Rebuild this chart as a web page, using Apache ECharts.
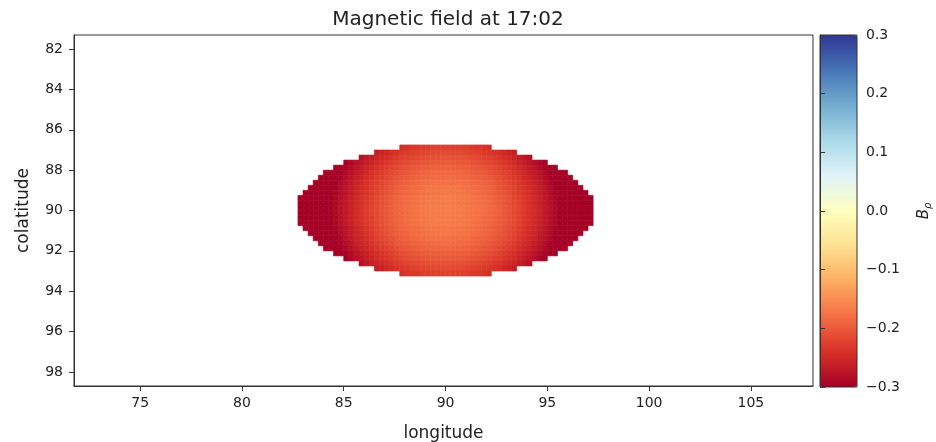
<!DOCTYPE html>
<html>
<head>
<meta charset="utf-8">
<script src="https://cdn.jsdelivr.net/npm/echarts@6/dist/echarts.min.js"></script>
<style>
html, body { margin: 0; padding: 0; background: #fff; }
#bfield-chart { width: 936px; height: 442px; }
</style>
</head>
<body>
<div id="bfield-chart"></div>
<script>
// grid of the field, degrees: one row per colatitude,
// each row starts at firstLon[i] and steps by lonStep
var lonStep = 0.25;
var colats = [86.875, 87.125, 87.375, 87.625, 87.875, 88.125, 88.375, 88.625, 88.875,
              89.125, 89.375, 89.625, 89.875, 90.125, 90.375, 90.625, 90.875, 91.125,
              91.375, 91.625, 91.875, 92.125, 92.375, 92.625, 92.875, 93.125];
var firstLon = [87.875, 86.625, 85.875, 85.125, 84.625, 84.125, 83.875, 83.625, 83.375,
                83.125, 82.875, 82.875, 82.875, 82.875, 82.875, 82.875, 83.125, 83.375,
                83.625, 83.875, 84.125, 84.625, 85.125, 85.875, 86.625, 87.875];

// B_rho (estimated from the colour scale)
var bRho = [
    [-0.242, -0.238, -0.234, -0.231, -0.228, -0.226, -0.225, -0.224, -0.223, -0.223, -0.224, -0.225, -0.226, -0.228, -0.231, -0.234, -0.238, -0.242],
    [-0.263, -0.256, -0.250, -0.244, -0.238, -0.233, -0.229, -0.225, -0.222, -0.219, -0.217, -0.216, -0.215, -0.214,
     -0.214, -0.215, -0.216, -0.217, -0.219, -0.222, -0.225, -0.229, -0.233, -0.238, -0.244, -0.250, -0.256, -0.263],
    [-0.279, -0.271, -0.263, -0.255, -0.248, -0.242, -0.236, -0.230, -0.225, -0.221, -0.217, -0.214, -0.211, -0.209, -0.208, -0.207, -0.206,
     -0.206, -0.207, -0.208, -0.209, -0.211, -0.214, -0.217, -0.221, -0.225, -0.230, -0.236, -0.242, -0.248, -0.255, -0.263, -0.271, -0.279],
    [-0.300, -0.290, -0.280, -0.271, -0.263, -0.255, -0.247, -0.240, -0.234, -0.228, -0.222, -0.217, -0.213, -0.209, -0.206, -0.203, -0.201, -0.200, -0.199, -0.198,
     -0.198, -0.199, -0.200, -0.201, -0.203, -0.206, -0.209, -0.213, -0.217, -0.222, -0.228, -0.234, -0.240, -0.247, -0.255, -0.263, -0.271, -0.280, -0.290, -0.300],
    [-0.316, -0.305, -0.294, -0.284, -0.274, -0.265, -0.257, -0.249, -0.241, -0.234, -0.228, -0.222, -0.216, -0.211, -0.207, -0.203, -0.200, -0.197, -0.195, -0.194, -0.193, -0.192,
     -0.192, -0.193, -0.194, -0.195, -0.197, -0.200, -0.203, -0.207, -0.211, -0.216, -0.222, -0.228, -0.234, -0.241, -0.249, -0.257, -0.265, -0.274, -0.284, -0.294, -0.305, -0.316],
    [-0.334, -0.322, -0.310, -0.299, -0.288, -0.278, -0.268, -0.259, -0.251, -0.243, -0.235, -0.228, -0.222, -0.216, -0.210, -0.205, -0.201, -0.197, -0.194, -0.191, -0.189, -0.188, -0.187, -0.186,
     -0.186, -0.187, -0.188, -0.189, -0.191, -0.194, -0.197, -0.201, -0.205, -0.210, -0.216, -0.222, -0.228, -0.235, -0.243, -0.251, -0.259, -0.268, -0.278, -0.288, -0.299, -0.310, -0.322, -0.334],
    [-0.342, -0.329, -0.317, -0.305, -0.294, -0.283, -0.273, -0.263, -0.254, -0.246, -0.238, -0.230, -0.223, -0.217, -0.211, -0.205, -0.200, -0.196, -0.192, -0.189, -0.186, -0.184, -0.183, -0.182, -0.181,
     -0.181, -0.182, -0.183, -0.184, -0.186, -0.189, -0.192, -0.196, -0.200, -0.205, -0.211, -0.217, -0.223, -0.230, -0.238, -0.246, -0.254, -0.263, -0.273, -0.283, -0.294, -0.305, -0.317, -0.329, -0.342],
    [-0.351, -0.337, -0.324, -0.312, -0.300, -0.289, -0.278, -0.268, -0.258, -0.249, -0.241, -0.233, -0.225, -0.218, -0.212, -0.206, -0.200, -0.195, -0.191, -0.187, -0.184, -0.181, -0.179, -0.178, -0.177, -0.176,
     -0.176, -0.177, -0.178, -0.179, -0.181, -0.184, -0.187, -0.191, -0.195, -0.200, -0.206, -0.212, -0.218, -0.225, -0.233, -0.241, -0.249, -0.258, -0.268, -0.278, -0.289, -0.300, -0.312, -0.324, -0.337, -0.351],
    [-0.361, -0.347, -0.333, -0.320, -0.308, -0.296, -0.285, -0.274, -0.264, -0.254, -0.245, -0.237, -0.229, -0.221, -0.214, -0.208, -0.202, -0.196, -0.191, -0.187, -0.183, -0.180, -0.177, -0.175, -0.174, -0.173, -0.172,
     -0.172, -0.173, -0.174, -0.175, -0.177, -0.180, -0.183, -0.187, -0.191, -0.196, -0.202, -0.208, -0.214, -0.221, -0.229, -0.237, -0.245, -0.254, -0.264, -0.274, -0.285, -0.296, -0.308, -0.320, -0.333, -0.347, -0.361],
    [-0.373, -0.359, -0.345, -0.331, -0.318, -0.306, -0.294, -0.283, -0.272, -0.262, -0.252, -0.243, -0.235, -0.227, -0.219, -0.212, -0.206, -0.200, -0.194, -0.189, -0.185, -0.181, -0.178, -0.175, -0.173, -0.172, -0.171, -0.170,
     -0.170, -0.171, -0.172, -0.173, -0.175, -0.178, -0.181, -0.185, -0.189, -0.194, -0.200, -0.206, -0.212, -0.219, -0.227, -0.235, -0.243, -0.252, -0.262, -0.272, -0.283, -0.294, -0.306, -0.318, -0.331, -0.345, -0.359, -0.373],
    [-0.385, -0.370, -0.356, -0.342, -0.328, -0.315, -0.303, -0.291, -0.280, -0.269, -0.259, -0.249, -0.240, -0.232, -0.224, -0.216, -0.209, -0.203, -0.197, -0.191, -0.186, -0.182, -0.178, -0.175, -0.172, -0.170, -0.169, -0.168, -0.167,
     -0.167, -0.168, -0.169, -0.170, -0.172, -0.175, -0.178, -0.182, -0.186, -0.191, -0.197, -0.203, -0.209, -0.216, -0.224, -0.232, -0.240, -0.249, -0.259, -0.269, -0.280, -0.291, -0.303, -0.315, -0.328, -0.342, -0.356, -0.370, -0.385],
    [-0.384, -0.369, -0.355, -0.341, -0.327, -0.314, -0.302, -0.290, -0.279, -0.268, -0.258, -0.248, -0.239, -0.231, -0.223, -0.215, -0.208, -0.202, -0.196, -0.190, -0.185, -0.181, -0.177, -0.174, -0.171, -0.169, -0.168, -0.167, -0.166,
     -0.166, -0.167, -0.168, -0.169, -0.171, -0.174, -0.177, -0.181, -0.185, -0.190, -0.196, -0.202, -0.208, -0.215, -0.223, -0.231, -0.239, -0.248, -0.258, -0.268, -0.279, -0.290, -0.302, -0.314, -0.327, -0.341, -0.355, -0.369, -0.384],
    [-0.383, -0.368, -0.354, -0.340, -0.326, -0.313, -0.301, -0.289, -0.278, -0.267, -0.257, -0.247, -0.238, -0.230, -0.222, -0.214, -0.207, -0.201, -0.195, -0.189, -0.184, -0.180, -0.176, -0.173, -0.170, -0.168, -0.167, -0.166, -0.165,
     -0.165, -0.166, -0.167, -0.168, -0.170, -0.173, -0.176, -0.180, -0.184, -0.189, -0.195, -0.201, -0.207, -0.214, -0.222, -0.230, -0.238, -0.247, -0.257, -0.267, -0.278, -0.289, -0.301, -0.313, -0.326, -0.340, -0.354, -0.368, -0.383],
    [-0.383, -0.368, -0.354, -0.340, -0.326, -0.313, -0.301, -0.289, -0.278, -0.267, -0.257, -0.247, -0.238, -0.230, -0.222, -0.214, -0.207, -0.201, -0.195, -0.189, -0.184, -0.180, -0.176, -0.173, -0.170, -0.168, -0.167, -0.166, -0.165,
     -0.165, -0.166, -0.167, -0.168, -0.170, -0.173, -0.176, -0.180, -0.184, -0.189, -0.195, -0.201, -0.207, -0.214, -0.222, -0.230, -0.238, -0.247, -0.257, -0.267, -0.278, -0.289, -0.301, -0.313, -0.326, -0.340, -0.354, -0.368, -0.383],
    [-0.384, -0.369, -0.355, -0.341, -0.327, -0.314, -0.302, -0.290, -0.279, -0.268, -0.258, -0.248, -0.239, -0.231, -0.223, -0.215, -0.208, -0.202, -0.196, -0.190, -0.185, -0.181, -0.177, -0.174, -0.171, -0.169, -0.168, -0.167, -0.166,
     -0.166, -0.167, -0.168, -0.169, -0.171, -0.174, -0.177, -0.181, -0.185, -0.190, -0.196, -0.202, -0.208, -0.215, -0.223, -0.231, -0.239, -0.248, -0.258, -0.268, -0.279, -0.290, -0.302, -0.314, -0.327, -0.341, -0.355, -0.369, -0.384],
    [-0.385, -0.370, -0.356, -0.342, -0.328, -0.315, -0.303, -0.291, -0.280, -0.269, -0.259, -0.249, -0.240, -0.232, -0.224, -0.216, -0.209, -0.203, -0.197, -0.191, -0.186, -0.182, -0.178, -0.175, -0.172, -0.170, -0.169, -0.168, -0.167,
     -0.167, -0.168, -0.169, -0.170, -0.172, -0.175, -0.178, -0.182, -0.186, -0.191, -0.197, -0.203, -0.209, -0.216, -0.224, -0.232, -0.240, -0.249, -0.259, -0.269, -0.280, -0.291, -0.303, -0.315, -0.328, -0.342, -0.356, -0.370, -0.385],
    [-0.373, -0.359, -0.345, -0.331, -0.318, -0.306, -0.294, -0.283, -0.272, -0.262, -0.252, -0.243, -0.235, -0.227, -0.219, -0.212, -0.206, -0.200, -0.194, -0.189, -0.185, -0.181, -0.178, -0.175, -0.173, -0.172, -0.171, -0.170,
     -0.170, -0.171, -0.172, -0.173, -0.175, -0.178, -0.181, -0.185, -0.189, -0.194, -0.200, -0.206, -0.212, -0.219, -0.227, -0.235, -0.243, -0.252, -0.262, -0.272, -0.283, -0.294, -0.306, -0.318, -0.331, -0.345, -0.359, -0.373],
    [-0.361, -0.347, -0.333, -0.320, -0.308, -0.296, -0.285, -0.274, -0.264, -0.254, -0.245, -0.237, -0.229, -0.221, -0.214, -0.208, -0.202, -0.196, -0.191, -0.187, -0.183, -0.180, -0.177, -0.175, -0.174, -0.173, -0.172,
     -0.172, -0.173, -0.174, -0.175, -0.177, -0.180, -0.183, -0.187, -0.191, -0.196, -0.202, -0.208, -0.214, -0.221, -0.229, -0.237, -0.245, -0.254, -0.264, -0.274, -0.285, -0.296, -0.308, -0.320, -0.333, -0.347, -0.361],
    [-0.351, -0.337, -0.324, -0.312, -0.300, -0.289, -0.278, -0.268, -0.258, -0.249, -0.241, -0.233, -0.225, -0.218, -0.212, -0.206, -0.200, -0.195, -0.191, -0.187, -0.184, -0.181, -0.179, -0.178, -0.177, -0.176,
     -0.176, -0.177, -0.178, -0.179, -0.181, -0.184, -0.187, -0.191, -0.195, -0.200, -0.206, -0.212, -0.218, -0.225, -0.233, -0.241, -0.249, -0.258, -0.268, -0.278, -0.289, -0.300, -0.312, -0.324, -0.337, -0.351],
    [-0.342, -0.329, -0.317, -0.305, -0.294, -0.283, -0.273, -0.263, -0.254, -0.246, -0.238, -0.230, -0.223, -0.217, -0.211, -0.205, -0.200, -0.196, -0.192, -0.189, -0.186, -0.184, -0.183, -0.182, -0.181,
     -0.181, -0.182, -0.183, -0.184, -0.186, -0.189, -0.192, -0.196, -0.200, -0.205, -0.211, -0.217, -0.223, -0.230, -0.238, -0.246, -0.254, -0.263, -0.273, -0.283, -0.294, -0.305, -0.317, -0.329, -0.342],
    [-0.334, -0.322, -0.310, -0.299, -0.288, -0.278, -0.268, -0.259, -0.251, -0.243, -0.235, -0.228, -0.222, -0.216, -0.210, -0.205, -0.201, -0.197, -0.194, -0.191, -0.189, -0.188, -0.187, -0.186,
     -0.186, -0.187, -0.188, -0.189, -0.191, -0.194, -0.197, -0.201, -0.205, -0.210, -0.216, -0.222, -0.228, -0.235, -0.243, -0.251, -0.259, -0.268, -0.278, -0.288, -0.299, -0.310, -0.322, -0.334],
    [-0.316, -0.305, -0.294, -0.284, -0.274, -0.265, -0.257, -0.249, -0.241, -0.234, -0.228, -0.222, -0.216, -0.211, -0.207, -0.203, -0.200, -0.197, -0.195, -0.194, -0.193, -0.192,
     -0.192, -0.193, -0.194, -0.195, -0.197, -0.200, -0.203, -0.207, -0.211, -0.216, -0.222, -0.228, -0.234, -0.241, -0.249, -0.257, -0.265, -0.274, -0.284, -0.294, -0.305, -0.316],
    [-0.300, -0.290, -0.280, -0.271, -0.263, -0.255, -0.247, -0.240, -0.234, -0.228, -0.222, -0.217, -0.213, -0.209, -0.206, -0.203, -0.201, -0.200, -0.199, -0.198,
     -0.198, -0.199, -0.200, -0.201, -0.203, -0.206, -0.209, -0.213, -0.217, -0.222, -0.228, -0.234, -0.240, -0.247, -0.255, -0.263, -0.271, -0.280, -0.290, -0.300],
    [-0.279, -0.271, -0.263, -0.255, -0.248, -0.242, -0.236, -0.230, -0.225, -0.221, -0.217, -0.214, -0.211, -0.209, -0.208, -0.207, -0.206,
     -0.206, -0.207, -0.208, -0.209, -0.211, -0.214, -0.217, -0.221, -0.225, -0.230, -0.236, -0.242, -0.248, -0.255, -0.263, -0.271, -0.279],
    [-0.263, -0.256, -0.250, -0.244, -0.238, -0.233, -0.229, -0.225, -0.222, -0.219, -0.217, -0.216, -0.215, -0.214,
     -0.214, -0.215, -0.216, -0.217, -0.219, -0.222, -0.225, -0.229, -0.233, -0.238, -0.244, -0.250, -0.256, -0.263],
    [-0.242, -0.238, -0.234, -0.231, -0.228, -0.226, -0.225, -0.224, -0.223, -0.223, -0.224, -0.225, -0.226, -0.228, -0.231, -0.234, -0.238, -0.242]
];

var lonTicks = [75, 80, 85, 90, 95, 100, 105];
var colatTicks = [82, 84, 86, 88, 90, 92, 94, 96, 98];
var cbarTicks = [-0.3, -0.2, -0.1, 0.0, 0.1, 0.2, 0.3];

// RdYlBu, low -> high
var rdylbu = ['#a50026', '#d73027', '#f46d43', '#fdae61', '#fee090', '#ffffbf',
              '#e0f3f8', '#abd9e9', '#74add1', '#4575b4', '#313695'];

var cells = [];
for (var i = 0; i < colats.length; i++) {
    for (var j = 0; j < bRho[i].length; j++) {
        cells.push([firstLon[i] + j * lonStep, colats[i], bRho[i][j]]);
    }
}
var dColat = colats[1] - colats[0];

function renderCell(params, api) {
    var x = api.value(0), y = api.value(1);
    var p0 = api.coord([x - lonStep / 2, y - dColat / 2]);
    var p1 = api.coord([x + lonStep / 2, y + dColat / 2]);
    var c = api.visual('color');
    return {
        type: 'rect',
        shape: {
            x: Math.min(p0[0], p1[0]), y: Math.min(p0[1], p1[1]),
            width: Math.abs(p1[0] - p0[0]), height: Math.abs(p1[1] - p0[1])
        },
        style: { fill: c, stroke: c, lineWidth: 0.6 }
    };
}

var font = 'DejaVu Sans';
var ink = '#222';

function minusFmt(v) {
    return (v < -1e-9 ? '\u2212' : '') + Math.abs(v).toFixed(1);
}

var chart = echarts.init(document.getElementById('bfield-chart'));

var option = {
    animation: false,
    backgroundColor: '#fff',
    textStyle: { fontFamily: font },
    title: {
        text: 'Magnetic field at 17:02',
        left: 443,
        top: 5,
        textAlign: 'center',
        textStyle: { fontFamily: font, fontSize: 20, fontWeight: 'normal', color: ink }
    },
    grid: [
        { left: 74, top: 35, width: 739, height: 351, outerBoundsMode: 'none', containLabel: false,
          show: true, borderColor: '#333', borderWidth: 1, backgroundColor: 'transparent' },
        { left: 820, top: 35, width: 37, height: 352, outerBoundsMode: 'none', containLabel: false,
          show: true, borderColor: '#333', borderWidth: 1, backgroundColor: 'transparent', z: 10 }
    ],
    xAxis: [
        {
            type: 'value', gridIndex: 0, min: 71.75, max: 108.05,
            name: 'longitude', nameLocation: 'middle', nameGap: 39,
            nameTextStyle: { fontFamily: font, fontSize: 17, color: ink },
            axisLine: { show: true, lineStyle: { color: '#333' } },
            axisTick: { show: true, customValues: lonTicks, length: 5, lineStyle: { color: '#333' } },
            axisLabel: { customValues: lonTicks, margin: 10, fontFamily: font, fontSize: 14, color: ink },
            splitLine: { show: false }
        },
        { type: 'value', gridIndex: 1, min: 0, max: 1, show: false }
    ],
    yAxis: [
        {
            type: 'value', gridIndex: 0, inverse: true, min: 81.3, max: 98.7,
            name: 'colatitude', nameLocation: 'middle', nameGap: 42,
            nameTextStyle: { fontFamily: font, fontSize: 17, color: ink },
            axisLine: { show: true, lineStyle: { color: '#333' } },
            axisTick: { show: true, customValues: colatTicks, length: 5, lineStyle: { color: '#333' } },
            axisLabel: { customValues: colatTicks, margin: 11, fontFamily: font, fontSize: 14, color: ink },
            splitLine: { show: false }
        },
        {
            type: 'value', gridIndex: 1, position: 'right', min: -0.3, max: 0.3, z: 10,
            name: '{b|B}{r|\u03c1}', nameLocation: 'middle', nameGap: 58, nameRotate: 90,
            nameTextStyle: {
                rich: {
                    b: { fontFamily: font, fontSize: 15, fontStyle: 'italic', color: ink, lineHeight: 18, verticalAlign: 'middle' },
                    r: { fontFamily: font, fontSize: 10, fontStyle: 'italic', color: ink, lineHeight: 18, verticalAlign: 'bottom' }
                }
            },
            axisLine: { show: true, lineStyle: { color: '#333' } },
            axisTick: { show: true, customValues: cbarTicks, length: 5, lineStyle: { color: '#333' } },
            axisLabel: { customValues: cbarTicks, margin: 9, fontFamily: font, fontSize: 14, color: ink, formatter: minusFmt },
            splitLine: { show: false }
        }
    ],
    visualMap: {
        type: 'continuous',
        min: -0.3, max: 0.3,
        dimension: 2,
        seriesIndex: 0,
        calculable: false,
        orient: 'vertical',
        left: 820, top: 35,
        itemWidth: 37, itemHeight: 352,
        padding: 0,
        inRange: { color: rdylbu }
    },
    series: [
        {
            type: 'custom',
            xAxisIndex: 0, yAxisIndex: 0,
            renderItem: renderCell,
            encode: { x: 0, y: 1 },
            clip: true,
            silent: true,
            data: cells
        }
    ]
};

chart.setOption(option);
</script>
</body>
</html>
